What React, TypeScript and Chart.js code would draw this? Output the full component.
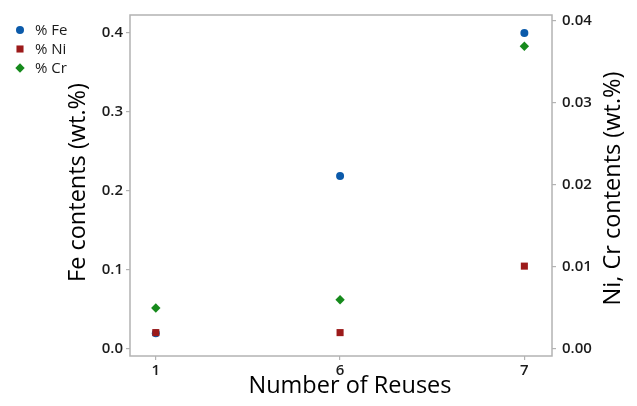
import React, { useEffect, useRef } from "react";
import { Chart, registerables } from "chart.js";

Chart.register(...registerables);

const categories = ["1", "6", "7"];
const feValues = [0.02, 0.219, 0.4];
const niValues = [0.002, 0.002, 0.0101];
const crValues = [0.005, 0.006, 0.0369];
const leftTicks = [0, 0.1, 0.2, 0.3, 0.4];
const rightTicks = [0, 0.01, 0.02, 0.03, 0.04];
const seriesNames = ["% Fe", "% Ni", "% Cr"];

const FONT = "'Open Sans', 'Noto Sans', sans-serif";
const TEXT = "#1b1b1b";
const FRAME = "#b3b3b3";

export default function App() {
  const ref = useRef<HTMLCanvasElement | null>(null);

  useEffect(() => {
    if (!ref.current) return;
    const toPts = (vals: number[]) => vals.map((v, i) => ({ x: i, y: v }));

    function drawMarker(ctx: CanvasRenderingContext2D, style: string, r: number, x: number, y: number) {
      ctx.beginPath();
      if (style === "circle") {
        ctx.arc(x, y, r, 0, Math.PI * 2);
      } else if (style === "rect") {
        const s = Math.SQRT1_2 * r;
        ctx.rect(x - s, y - s, 2 * s, 2 * s);
      } else {
        ctx.moveTo(x, y - r);
        ctx.lineTo(x + r, y);
        ctx.lineTo(x, y + r);
        ctx.lineTo(x - r, y);
        ctx.closePath();
      }
      ctx.fill();
    }

    const framePlugin = {
      id: "frameAndText",
      beforeDatasetsDraw(chart: any) {
        const { ctx, chartArea } = chart;
        ctx.save();
        ctx.strokeStyle = FRAME;
        ctx.lineWidth = 1.5;
        ctx.strokeRect(chartArea.left, chartArea.top, chartArea.right - chartArea.left, chartArea.bottom - chartArea.top);
        ctx.restore();
      },
      afterDraw(chart: any) {
        const { ctx, chartArea } = chart;
        ctx.save();
        ctx.fillStyle = "#000";
        ctx.font = `500 23.5px ${FONT}`;
        ctx.textAlign = "center";
        ctx.textBaseline = "middle";
        ctx.save();
        ctx.translate(78, (chartArea.top + chartArea.bottom) / 2 - 3);
        ctx.rotate(-Math.PI / 2);
        ctx.fillText("Fe contents (wt.%)", 0, 0);
        ctx.restore();
        ctx.save();
        ctx.translate(613, (chartArea.top + chartArea.bottom) / 2 + 3);
        ctx.rotate(-Math.PI / 2);
        ctx.fillText("Ni, Cr contents (wt.%)", 0, 0);
        ctx.restore();
        ctx.fillText("Number of Reuses", (chartArea.left + chartArea.right) / 2 + 9, 386);
        const ds = chart.data.datasets;
        ctx.font = `500 15px ${FONT}`;
        ctx.textAlign = "left";
        const ys = [30, 49, 68];
        seriesNames.forEach((name, i) => {
          const d = ds[i];
          ctx.fillStyle = d.backgroundColor;
          drawMarker(ctx, d.pointStyle, d.pointRadius, 20, ys[i]);
          ctx.fillStyle = TEXT;
          ctx.fillText(name, 35, ys[i] + 1);
        });
        ctx.restore();
      },
    };

    const tickFont = { family: FONT, size: 15, weight: "600" as any };

    const chart = new Chart(ref.current, {
      type: "scatter",
      data: {
        datasets: [
          {
            label: seriesNames[0],
            data: toPts(feValues),
            yAxisID: "y",
            pointStyle: "circle",
            pointRadius: 4,
            backgroundColor: "#0b5aaa",
            borderColor: "#0b5aaa",
            borderWidth: 0,
            order: 2,
          },
          {
            label: seriesNames[1],
            data: toPts(niValues),
            yAxisID: "y2",
            pointStyle: "rect",
            pointRadius: 5,
            backgroundColor: "#9c1a1a",
            borderColor: "#9c1a1a",
            borderWidth: 0,
            order: 0,
          },
          {
            label: seriesNames[2],
            data: toPts(crValues),
            yAxisID: "y2",
            pointStyle: "rectRot",
            pointRadius: 4.7,
            backgroundColor: "#168a1c",
            borderColor: "#168a1c",
            borderWidth: 0,
            order: 1,
          },
        ],
      },
      options: {
        animation: false,
        responsive: true,
        maintainAspectRatio: false,
        layout: { padding: { top: 15, left: 0, right: 0, bottom: 0 } },
        plugins: { legend: { display: false }, tooltip: { enabled: false } },
        scales: {
          x: {
            type: "linear",
            min: -0.14,
            max: 2.15,
            afterBuildTicks: (s: any) => {
              s.ticks = categories.map((_, i) => ({ value: i }));
            },
            afterFit: (s: any) => {
              s.height = 50;
            },
            ticks: {
              callback: (v: any) => categories[Math.round(Number(v))],
              color: TEXT,
              font: tickFont,
              padding: 2,
              maxRotation: 0,
            },
            grid: { drawOnChartArea: false, drawTicks: true, tickLength: 4, color: FRAME, lineWidth: 1.2 },
            border: { display: false },
          },
          y: {
            type: "linear",
            position: "left",
            min: -0.0089,
            max: 0.4228,
            afterBuildTicks: (s: any) => {
              s.ticks = leftTicks.map((v) => ({ value: v }));
            },
            afterFit: (s: any) => {
              s.width = 130;
            },
            ticks: {
              callback: (v: any) => Number(v).toFixed(1),
              color: TEXT,
              font: tickFont,
              padding: 3,
            },
            grid: { drawOnChartArea: false, drawTicks: true, tickLength: 4, color: FRAME, lineWidth: 1.2 },
            border: { display: false },
          },
          y2: {
            type: "linear",
            position: "right",
            min: -0.00085,
            max: 0.0407,
            afterBuildTicks: (s: any) => {
              s.ticks = rightTicks.map((v) => ({ value: v }));
            },
            afterFit: (s: any) => {
              s.width = 85;
            },
            ticks: {
              callback: (v: any) => Number(v).toFixed(2),
              color: TEXT,
              font: tickFont,
              padding: 6,
            },
            grid: { drawOnChartArea: false, drawTicks: true, tickLength: 4, color: FRAME, lineWidth: 1.2 },
            border: { display: false },
          },
        },
      },
      plugins: [framePlugin],
    } as any);

    return () => chart.destroy();
  }, []);

  return (
    <div style={{ position: "absolute", left: 0, top: 0, width: 637, height: 406, background: "#fff" }}>
      <canvas ref={ref} />
    </div>
  );
}
